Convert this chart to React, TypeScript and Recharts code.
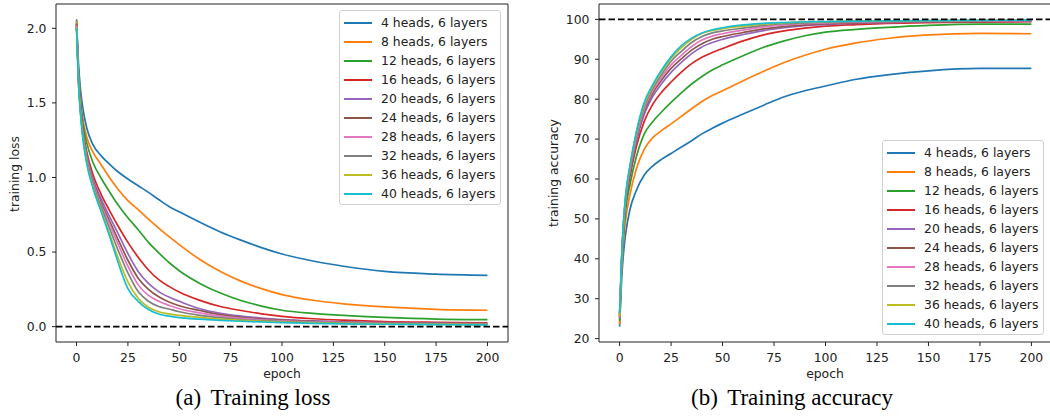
import React from "react";
import { LineChart, Line, XAxis, YAxis, ReferenceLine, ReferenceArea } from "recharts";

const epochs = [0, 1, 2, 3, 5, 8, 12, 16, 20, 25, 30, 35, 40, 45, 50, 60, 70, 80, 90, 100, 115, 130, 150, 175, 200];
const heads = [4, 8, 12, 16, 20, 24, 28, 32, 36, 40];

// training loss
const loss4 = [2.06, 1.75, 1.58, 1.47, 1.33, 1.22, 1.145, 1.09, 1.04, 0.99, 0.945, 0.9, 0.852, 0.806, 0.77, 0.7, 0.635, 0.58, 0.53, 0.487, 0.44, 0.405, 0.37, 0.352, 0.344];
const loss8 = [2.05, 1.7, 1.52, 1.4, 1.27, 1.17, 1.085, 1.0, 0.925, 0.845, 0.785, 0.72, 0.66, 0.603, 0.55, 0.45, 0.37, 0.305, 0.255, 0.215, 0.177, 0.153, 0.132, 0.116, 0.11];
const loss12 = [2.03, 1.68, 1.5, 1.37, 1.23, 1.1, 0.995, 0.905, 0.82, 0.73, 0.65, 0.565, 0.495, 0.43, 0.375, 0.29, 0.225, 0.175, 0.138, 0.11, 0.089, 0.075, 0.062, 0.051, 0.047];
const loss16 = [2.02, 1.66, 1.47, 1.33, 1.17, 1.02, 0.885, 0.78, 0.68, 0.565, 0.465, 0.38, 0.315, 0.27, 0.232, 0.176, 0.135, 0.108, 0.086, 0.069, 0.053, 0.043, 0.034, 0.029, 0.026];
const loss20 = [2.02, 1.65, 1.46, 1.32, 1.15, 0.99, 0.855, 0.74, 0.63, 0.49, 0.37, 0.29, 0.235, 0.198, 0.17, 0.12, 0.09, 0.071, 0.057, 0.047, 0.038, 0.032, 0.027, 0.023, 0.021];
const loss24 = [2.03, 1.65, 1.45, 1.31, 1.14, 0.98, 0.83, 0.71, 0.59, 0.445, 0.325, 0.25, 0.2, 0.165, 0.14, 0.108, 0.08, 0.063, 0.051, 0.043, 0.035, 0.029, 0.025, 0.021, 0.019];
const loss28 = [2.02, 1.64, 1.44, 1.3, 1.13, 0.97, 0.815, 0.69, 0.56, 0.405, 0.28, 0.21, 0.17, 0.143, 0.12, 0.092, 0.07, 0.056, 0.046, 0.039, 0.032, 0.027, 0.022, 0.019, 0.017];
const loss32 = [2.01, 1.63, 1.43, 1.29, 1.12, 0.955, 0.8, 0.66, 0.52, 0.36, 0.235, 0.17, 0.135, 0.118, 0.1, 0.076, 0.06, 0.048, 0.04, 0.034, 0.028, 0.024, 0.02, 0.017, 0.015];
const loss36 = [2.01, 1.62, 1.42, 1.28, 1.1, 0.94, 0.78, 0.625, 0.47, 0.3, 0.19, 0.13, 0.1, 0.085, 0.075, 0.062, 0.05, 0.042, 0.036, 0.031, 0.026, 0.022, 0.018, 0.015, 0.013];
const loss40 = [2.0, 1.62, 1.42, 1.27, 1.09, 0.93, 0.77, 0.61, 0.44, 0.255, 0.17, 0.115, 0.085, 0.07, 0.06, 0.05, 0.042, 0.036, 0.031, 0.027, 0.022, 0.019, 0.016, 0.013, 0.012];

// training accuracy
const acc4 = [23, 35, 42, 46.5, 52.3, 57, 61, 63.2, 64.8, 66.4, 68, 69.6, 71.3, 72.7, 74, 76.3, 78.5, 80.6, 82.1, 83.3, 85, 86.1, 87.1, 87.7, 87.7];
const acc8 = [23.5, 37, 45, 50, 56, 62.3, 67.5, 70.3, 72, 73.8, 75.7, 77.6, 79.4, 80.9, 82.1, 84.6, 87, 89.2, 91, 92.5, 94.1, 95.2, 96.1, 96.5, 96.4];
const acc12 = [24.5, 38, 47, 52.5, 58.5, 65.3, 71.3, 74.3, 76.6, 79.2, 81.6, 83.8, 85.7, 87.3, 88.6, 90.9, 93, 94.6, 95.9, 96.8, 97.5, 98, 98.5, 98.8, 98.8];
const acc16 = [25.5, 39, 48, 54, 60.5, 67.8, 74.5, 78.6, 81.5, 84.3, 86.8, 88.9, 90.5, 91.7, 92.7, 94.6, 96.1, 97.1, 97.8, 98.3, 98.7, 99, 99.2, 99.3, 99.4];
const acc20 = [25, 39, 48.5, 54.5, 61.5, 69, 76.2, 80.6, 83.6, 86.7, 89.2, 91.4, 93.1, 94.2, 95, 96.2, 97.2, 97.9, 98.4, 98.7, 99, 99.2, 99.4, 99.5, 99.5];
const acc24 = [26, 39.5, 49, 55, 62, 69.5, 77, 81.4, 84.5, 87.7, 90.1, 92.3, 93.9, 95, 95.7, 96.7, 97.6, 98.2, 98.6, 98.9, 99.1, 99.3, 99.5, 99.5, 99.6];
const acc28 = [25.5, 39.5, 49, 55.3, 62.3, 70, 77.5, 82, 85.2, 88.6, 91, 93.2, 94.8, 95.8, 96.4, 97.3, 98.1, 98.6, 98.9, 99.1, 99.3, 99.45, 99.55, 99.6, 99.65];
const acc32 = [26, 40, 49.5, 55.7, 62.7, 70.8, 78.2, 82.6, 85.9, 89.5, 92, 94.2, 95.7, 96.6, 97.1, 97.8, 98.5, 98.9, 99.1, 99.3, 99.45, 99.55, 99.65, 99.7, 99.75];
const acc36 = [25.5, 40, 49.8, 56, 63, 71.2, 78.7, 83.1, 86.6, 90.2, 92.9, 95, 96.5, 97.2, 97.7, 98.3, 98.8, 99.1, 99.3, 99.4, 99.55, 99.6, 99.7, 99.75, 99.8];
const acc40 = [26.5, 40.5, 50, 56.3, 63.3, 71.5, 79.2, 83.5, 87, 90.6, 93.4, 95.3, 96.6, 97.4, 97.9, 98.6, 99, 99.2, 99.35, 99.45, 99.55, 99.62, 99.7, 99.75, 99.8];

const lossSeries = [loss4, loss8, loss12, loss16, loss20, loss24, loss28, loss32, loss36, loss40];
const accSeries = [acc4, acc8, acc12, acc16, acc20, acc24, acc28, acc32, acc36, acc40];

const epochTicks = [0, 25, 50, 75, 100, 125, 150, 175, 200];
const lossTicks = [0, 0.5, 1, 1.5, 2];
const accTicks = [20, 30, 40, 50, 60, 70, 80, 90, 100];

const PALETTE = ["#1f77b4", "#ff7f0e", "#2ca02c", "#d62728", "#9467bd", "#8c564b", "#e377c2", "#7f7f7f", "#bcbd22", "#17becf"];
const FONT = "'DejaVu Sans', sans-serif";
const SERIF = "'Liberation Serif', 'Times New Roman', serif";
const INK = "#222";
const FS = 12.4;

function buildRows(series: number[][]) {
  return epochs.map((epoch, i) => {
    const row: Record<string, number> = { epoch };
    series.forEach((s, k) => {
      row[`h${heads[k]}`] = s[i];
    });
    return row;
  });
}

function MplLegend({ left, top }: { left: number; top: number }) {
  return (
    <div
      style={{
        position: "absolute",
        left,
        top,
        width: 162,
        height: 195,
        boxSizing: "border-box",
        border: "1px solid #d0d0d0",
        borderRadius: 3,
        background: "rgba(255,255,255,0.8)",
        fontFamily: FONT,
        fontSize: FS,
        color: INK,
      }}
    >
      {heads.map((h, i) => (
        <div key={h} style={{ position: "absolute", left: 0, top: 11.7 + i * 19.07 - 8, height: 16, width: 160 }}>
          <div style={{ position: "absolute", left: 4, top: 7, width: 28, height: 2, background: PALETTE[i] }} />
          <div style={{ position: "absolute", left: 41, top: 0, lineHeight: "16px", whiteSpace: "nowrap" }}>
            {h} heads, 6 layers
          </div>
        </div>
      ))}
    </div>
  );
}

interface PanelProps {
  series: number[][];
  left: number;
  width: number;
  marginLeft: number;
  marginRight: number;
  yDomain: [number, number];
  yTicks: number[];
  yFormat: (v: number) => string;
  refY: number;
}

function Panel({ series, left, width, marginLeft, marginRight, yDomain, yTicks, yFormat, refY }: PanelProps) {
  const data = buildRows(series);
  const tick = { fill: INK, fontSize: FS, fontFamily: FONT };
  return (
    <div style={{ position: "absolute", left, top: 0 }}>
      <LineChart width={width} height={416} data={data} margin={{ top: 4, right: marginRight, bottom: 44, left: marginLeft }}>
        <XAxis
          dataKey="epoch"
          type="number"
          domain={[-10, 210]}
          ticks={epochTicks}
          interval={0}
          tickSize={4}
          tickMargin={7}
          tick={tick}
          axisLine={false}
          tickLine={{ stroke: INK }}
          height={30}
        />
        <YAxis
          type="number"
          domain={yDomain}
          ticks={yTicks}
          interval={0}
          tickSize={4}
          tickMargin={5.5}
          tick={tick}
          tickFormatter={yFormat}
          axisLine={false}
          tickLine={{ stroke: INK }}
          width={50}
        />
        <ReferenceArea x1={-10} x2={210} y1={yDomain[0]} y2={yDomain[1]} fill="none" fillOpacity={0} stroke={INK} strokeWidth={1} />
        {heads.map((h, i) => (
          <Line
            key={h}
            type="monotone"
            dataKey={`h${h}`}
            stroke={PALETTE[i]}
            strokeWidth={1.7}
            dot={false}
            isAnimationActive={false}
          />
        ))}
        <ReferenceLine y={refY} stroke="#000" strokeWidth={1.8} strokeDasharray="6.5 3" />
      </LineChart>
    </div>
  );
}

const textBase: React.CSSProperties = {
  position: "absolute",
  fontFamily: FONT,
  fontSize: FS,
  color: INK,
  whiteSpace: "nowrap",
  lineHeight: 1,
};

export default function App() {
  return (
    <div style={{ position: "absolute", left: 0, top: 0, width: 1050, height: 416, overflow: "hidden", background: "#fff" }}>
      <Panel
        series={lossSeries}
        left={0}
        width={525}
        marginLeft={6}
        marginRight={17}
        yDomain={[-0.103, 2.163]}
        yTicks={lossTicks}
        yFormat={(v) => v.toFixed(1)}
        refY={0}
      />
      <Panel
        series={accSeries}
        left={525}
        width={540}
        marginLeft={24}
        marginRight={13}
        yDomain={[19.15, 103.85]}
        yTicks={accTicks}
        yFormat={(v) => String(v)}
        refY={100}
      />
      <MplLegend left={339} top={10} />
      <MplLegend left={882} top={140} />

      <div style={{ ...textBase, left: 282, top: 368, transform: "translateX(-50%)" }}>epoch</div>
      <div style={{ ...textBase, left: 825, top: 368, transform: "translateX(-50%)" }}>epoch</div>
      <div style={{ ...textBase, left: 15, top: 173.5, transform: "translate(-50%, -50%) rotate(-90deg)" }}>training loss</div>
      <div style={{ ...textBase, left: 553.5, top: 173, transform: "translate(-50%, -50%) rotate(-90deg)" }}>training accuracy</div>

      <div style={{ position: "absolute", left: 253, top: 385.7, transform: "translateX(-50%)", fontFamily: SERIF, fontSize: 23, lineHeight: "23px", color: "#000", whiteSpace: "nowrap" }}>
        <span style={{ paddingRight: 4 }}>(a)</span> Training loss
      </div>
      <div style={{ position: "absolute", left: 792, top: 385.7, transform: "translateX(-50%)", fontFamily: SERIF, fontSize: 23, lineHeight: "23px", color: "#000", whiteSpace: "nowrap" }}>
        <span style={{ paddingRight: 4 }}>(b)</span> Training accuracy
      </div>
    </div>
  );
}
